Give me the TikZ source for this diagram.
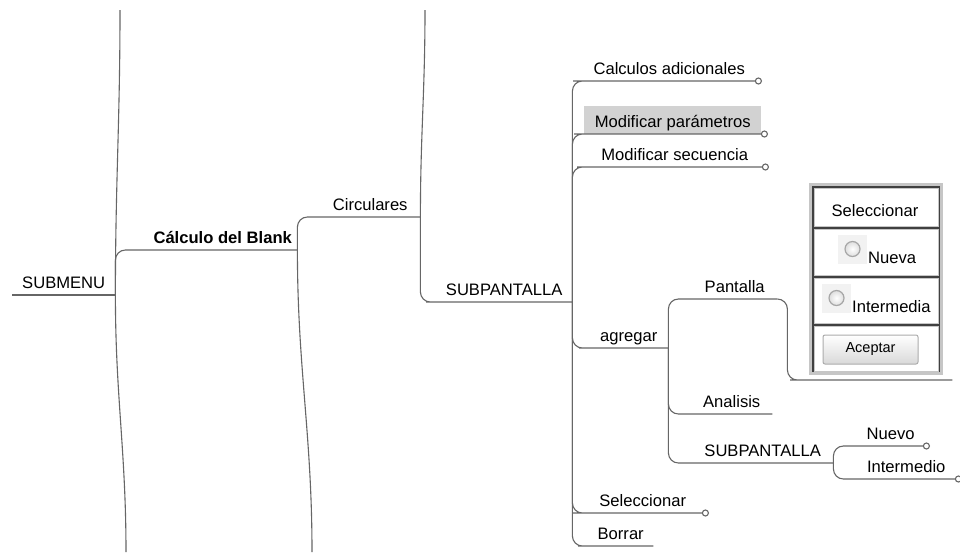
\documentclass[tikz,border=0pt]{standalone}
\usepackage{fontspec}
\setmainfont{Liberation Sans}
\usetikzlibrary{positioning}

\begin{document}
\begin{tikzpicture}[
  x=1pt, y=-1pt,
  font=\fontsize{16.6}{19}\selectfont,
  topic/.style={anchor=south west, inner xsep=0pt, inner ysep=6.5pt, text height=12pt, text depth=0pt, align=center},
  branch/.style={draw=black!60, line width=1.1pt, rounded corners=10pt},
  panel/.style={draw=gray!45, line width=3pt, fill=black!75, outer sep=0pt, minimum width=131pt, minimum height=189pt},
  cell/.style={draw=gray!45, line width=1pt, fill=white, outer sep=0pt, inner sep=0pt, minimum width=124pt},
  uitext/.style={inner sep=0pt},
  radio/.style={fill=gray!10, minimum size=29pt, inner sep=0pt,
    path picture={\shadedraw[inner color=white, outer color=gray!50, draw=gray!70, line width=1.2pt] (path picture bounding box.center) circle[radius=7.5];}},
  button/.style={draw=gray!65, line width=1pt, rounded corners=2pt, top color=white, bottom color=gray!30, minimum width=95pt, minimum height=29pt, font=\fontsize{14.5}{17}\selectfont}
]
\path[use as bounding box, fill=white] (0,0) rectangle (960,552);

\node[topic, minimum width=103pt] (submenu) at (12,295) {SUBMENU};
\node[topic, minimum width=149pt, font=\fontsize{16.6}{19}\selectfont\bfseries] (blank) at (148,250) {Cálculo del Blank};
\node[topic, minimum width=100pt] (circ) at (320,217) {Circulares};
\node[topic, minimum width=136pt] (subp) at (436,302) {SUBPANTALLA};

\node[topic, minimum width=172pt] (calcad) at (583,81) {Calculos adicionales};
\node[topic, minimum width=177pt, text height=15pt, fill=gray!35] (modpar) at (584,134) {Modificar parámetros};
\node[topic, minimum width=175pt] (modsec) at (587,167) {Modificar secuencia};
\node[topic, minimum width=79pt] (agregar) at (589,348) {agregar};
\node[topic, minimum width=119pt] (selec) at (583,513) {Seleccionar};
\node[topic, minimum width=65pt] (borrar) at (588,546) {Borrar};

\node[topic, minimum width=85pt] (pantalla) at (692,299) {Pantalla};
\node[topic, minimum width=81pt] (analisis) at (691,414) {Analisis};
\node[topic, minimum width=141pt] (subp2) at (692,463) {SUBPANTALLA};
\node[topic, minimum width=65pt] (nuevo) at (858,446) {Nuevo};
\node[topic, minimum width=98pt] (intermedio) at (857,479) {Intermedio};
\node[topic, minimum width=152pt] (gui) at (800,380) {};

% screen mock-up hanging under Pantalla
\node[panel, above=6.5pt of gui.south] (guitable) {};
\node[cell, minimum height=38pt, below=3.5pt of guitable.north] (guisel) {};
\node[cell, minimum height=46pt, below=3pt of guisel] (guinueva) {};
\node[cell, minimum height=45pt, below=3pt of guinueva] (guiinter) {};
\node[cell, minimum height=45pt, below=3pt of guiinter] (guiacept) {};
\node[uitext, anchor=base] (seltxt) at (875,216.5) {Seleccionar};
\node[radio] (radnueva) at (852.5,249) {};
\node[uitext, anchor=base west] (nuevatxt) at (868,263) {Nueva};
\node[radio] (radinter) at (836.5,298) {};
\node[uitext, anchor=base west] (intertxt) at (852,312) {Intermedia};
\node[button] (aceptar) at (870.5,349.5) {Aceptar};

% siblings running off the sheet
\coordinate (upA) at (120,10);
\coordinate (downA) at (126,552);
\coordinate (upB) at (425,10);
\coordinate (downB) at (312,552);
\draw[branch] (submenu.south east) to[out=90,in=-90] (upA);
\draw[branch] (submenu.south east) to[out=-90,in=90] (downA);
\draw[branch] (blank.south east) to[out=-90,in=90] (downB);
\draw[branch] (circ.south east) to[out=90,in=-90] (upB);

\draw[branch] (submenu.south west) -- (submenu.south east);
\draw[branch] (submenu.south east) |- (blank.south west) -- (blank.south east);
\draw[branch] (blank.south east) |- (circ.south west) -- (circ.south east);
\draw[branch] (circ.south east) |- (subp.south west) -- (subp.south east);

\draw[branch] (subp.south east) |- (calcad.south west) -- (calcad.south east) ++(3,0) circle[radius=3];
\draw[branch] (subp.south east) |- (modpar.south west) -- (modpar.south east) ++(3,0) circle[radius=3];
\draw[branch] (subp.south east) |- (modsec.south west) -- (modsec.south east) ++(3,0) circle[radius=3];
\draw[branch] (subp.south east) |- (agregar.south west) -- (agregar.south east);
\draw[branch] (subp.south east) |- (selec.south west) -- (selec.south east) ++(3,0) circle[radius=3];
\draw[branch] (subp.south east) |- (borrar.south west) -- (borrar.south east);

\draw[branch] (agregar.south east) |- (pantalla.south west) -- (pantalla.south east);
\draw[branch] (agregar.south east) |- (analisis.south west) -- (analisis.south east);
\draw[branch] (agregar.south east) |- (subp2.south west) -- (subp2.south east);
\draw[branch] (pantalla.south east) -- ++(10,0) |- (gui.south west) -- (gui.south east);

\draw[branch] (subp2.south east) |- (nuevo.south west) -- (nuevo.south east) ++(3,0) circle[radius=3];
\draw[branch] (subp2.south east) |- (intermedio.south west) -- (intermedio.south east) ++(3,0) circle[radius=3];
\end{tikzpicture}
\end{document}
